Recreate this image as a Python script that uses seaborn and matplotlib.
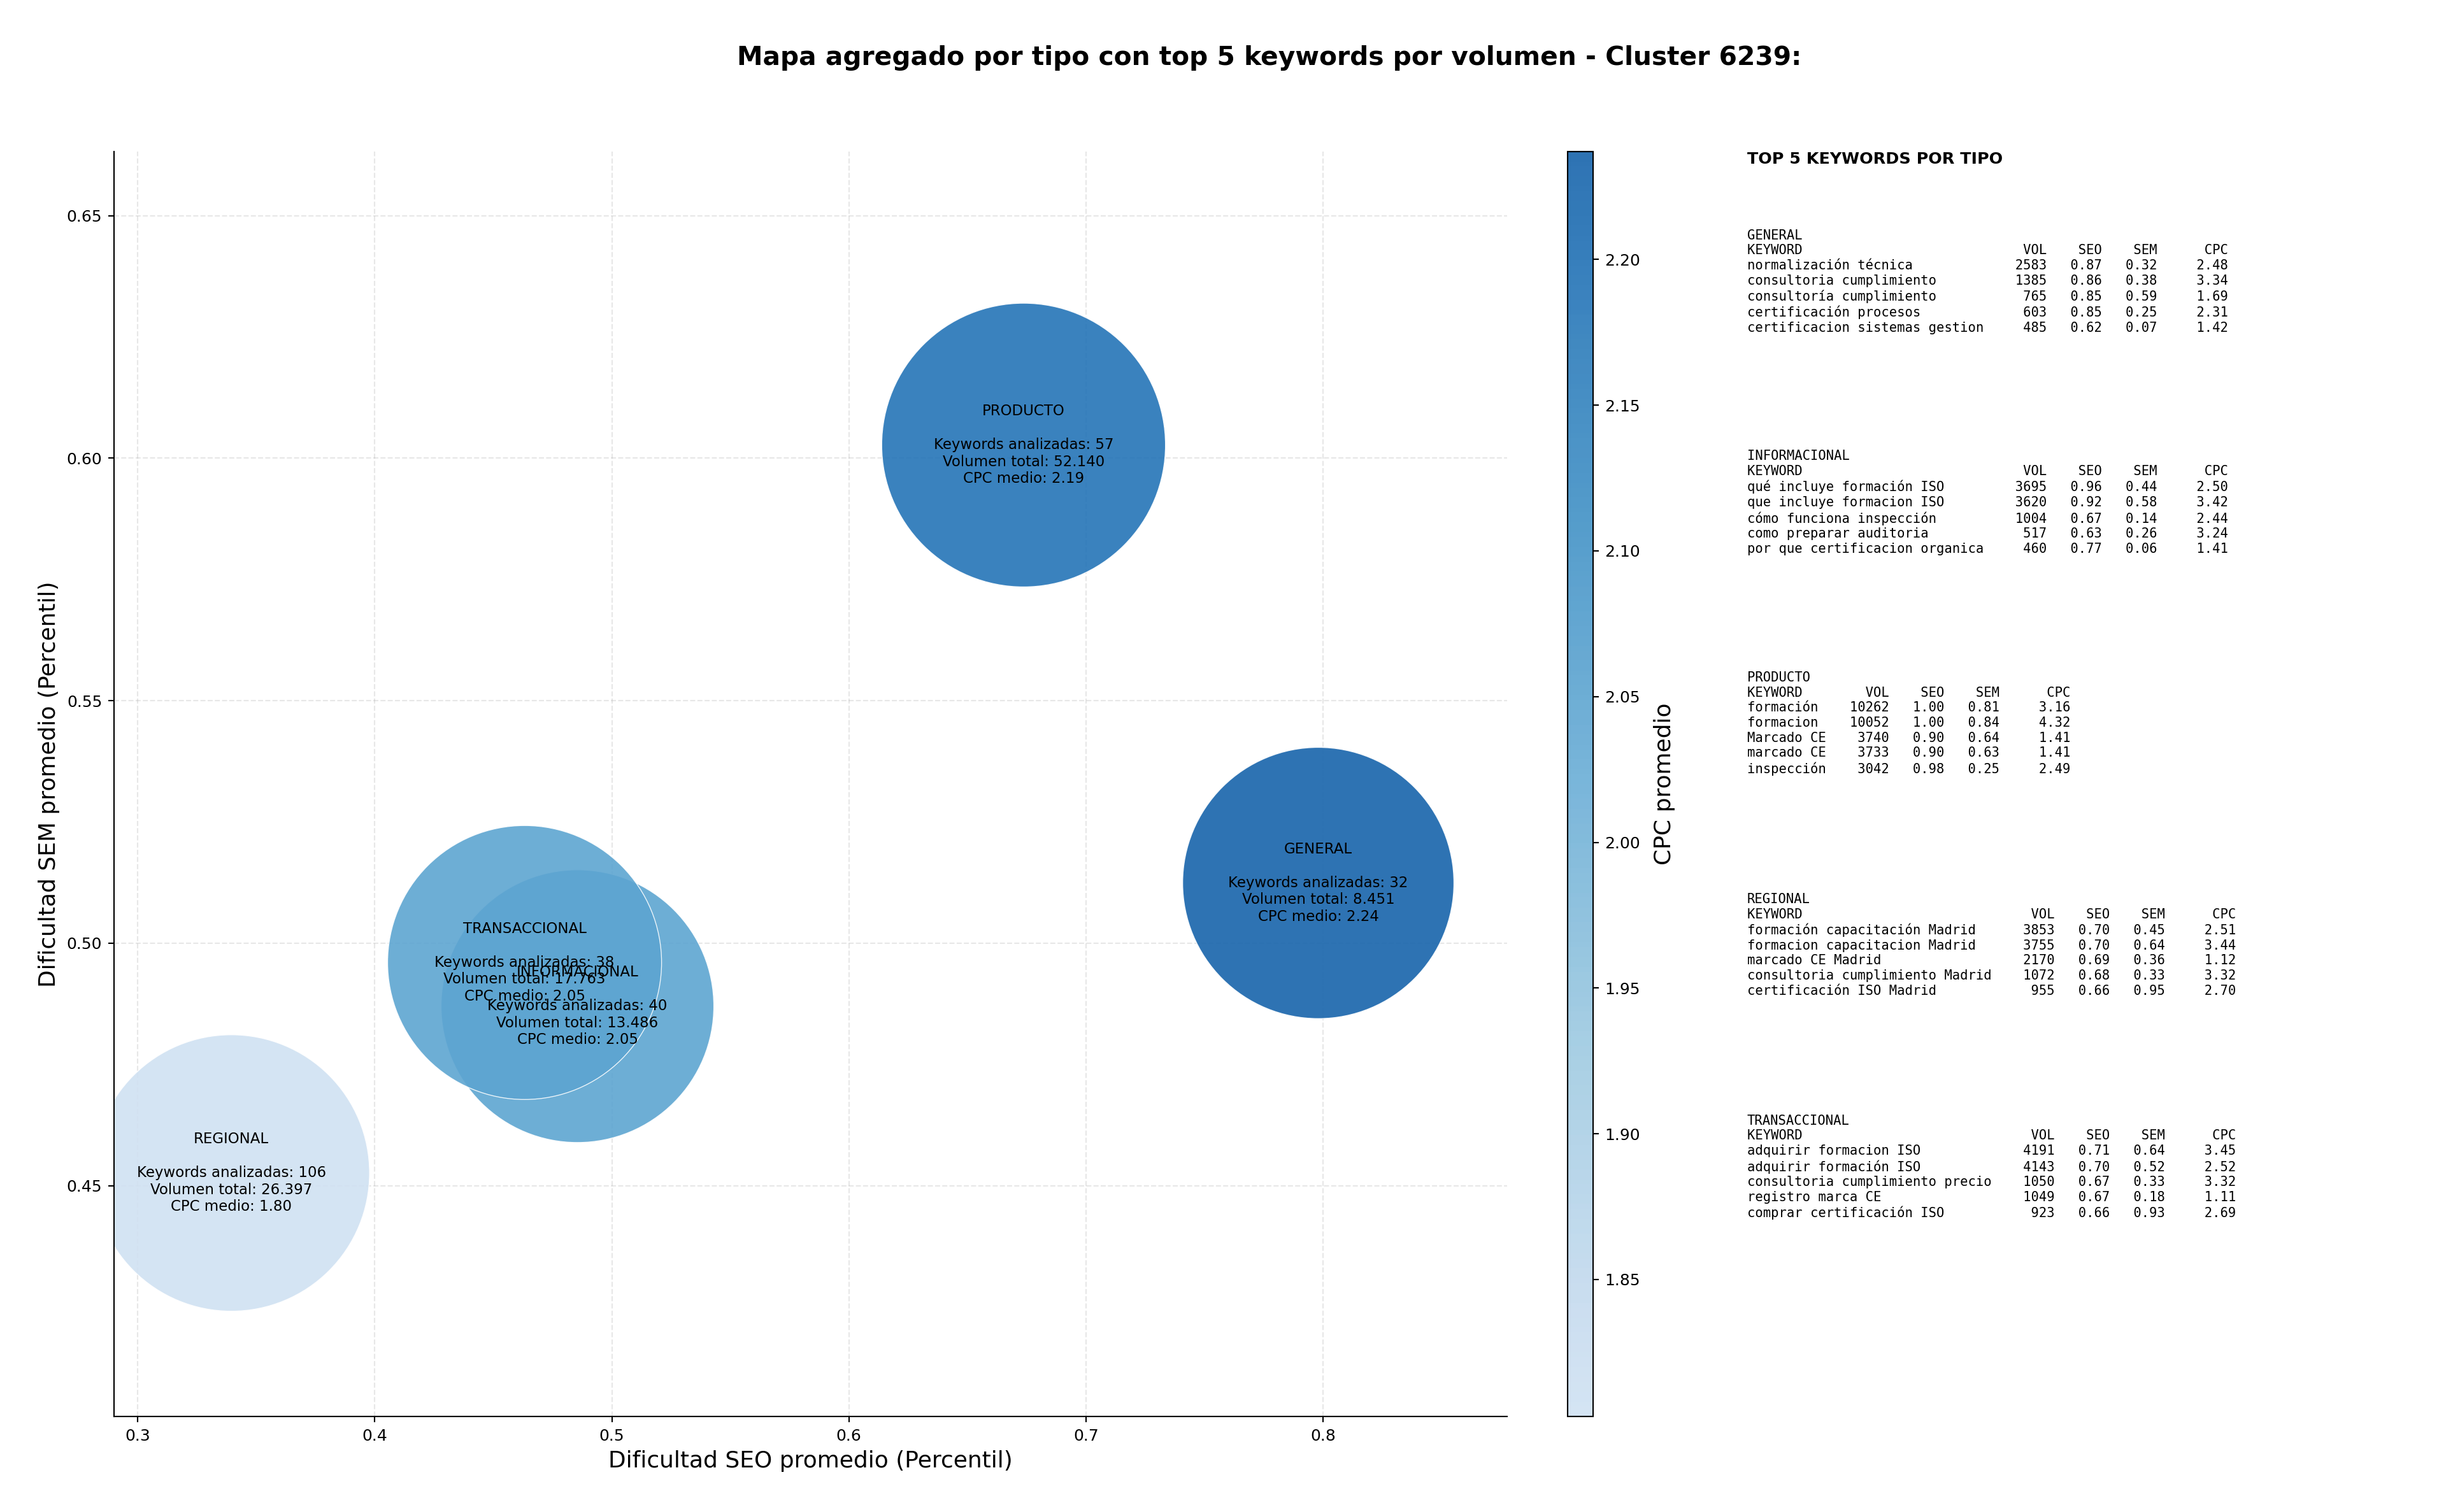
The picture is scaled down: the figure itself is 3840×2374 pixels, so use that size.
import matplotlib
matplotlib.use("Agg")
import matplotlib.pyplot as plt
from matplotlib.colors import ListedColormap, Normalize
from matplotlib.cm import ScalarMappable
import seaborn as sns
import pandas as pd
import numpy as np

# aggregated values per type
tipos = ["GENERAL", "INFORMACIONAL", "PRODUCTO", "REGIONAL", "TRANSACCIONAL"]
seo_medio = [0.798, 0.4855, 0.6737, 0.3395, 0.4632]
sem_medio = [0.5124, 0.487, 0.6027, 0.4526, 0.496]
n_keywords = [32, 40, 57, 106, 38]
volumen_total = [8451, 13486, 52140, 26397, 17763]
cpc_medio = [2.237, 2.05, 2.19, 1.803, 2.05]

# top 5 keywords per type: (keyword, vol, seo, sem, cpc)
top_general = [
    ("normalización técnica", 2583, 0.87, 0.32, 2.48),
    ("consultoria cumplimiento", 1385, 0.86, 0.38, 3.34),
    ("consultoría cumplimiento", 765, 0.85, 0.59, 1.69),
    ("certificación procesos", 603, 0.85, 0.25, 2.31),
    ("certificacion sistemas gestion", 485, 0.62, 0.07, 1.42),
]
top_informacional = [
    ("qué incluye formación ISO", 3695, 0.96, 0.44, 2.50),
    ("que incluye formacion ISO", 3620, 0.92, 0.58, 3.42),
    ("cómo funciona inspección", 1004, 0.67, 0.14, 2.44),
    ("como preparar auditoria", 517, 0.63, 0.26, 3.24),
    ("por que certificacion organica", 460, 0.77, 0.06, 1.41),
]
top_producto = [
    ("formación", 10262, 1.00, 0.81, 3.16),
    ("formacion", 10052, 1.00, 0.84, 4.32),
    ("Marcado CE", 3740, 0.90, 0.64, 1.41),
    ("marcado CE", 3733, 0.90, 0.63, 1.41),
    ("inspección", 3042, 0.98, 0.25, 2.49),
]
top_regional = [
    ("formación capacitación Madrid", 3853, 0.70, 0.45, 2.51),
    ("formacion capacitacion Madrid", 3755, 0.70, 0.64, 3.44),
    ("marcado CE Madrid", 2170, 0.69, 0.36, 1.12),
    ("consultoria cumplimiento Madrid", 1072, 0.68, 0.33, 3.32),
    ("certificación ISO Madrid", 955, 0.66, 0.95, 2.70),
]
top_transaccional = [
    ("adquirir formacion ISO", 4191, 0.71, 0.64, 3.45),
    ("adquirir formación ISO", 4143, 0.70, 0.52, 2.52),
    ("consultoria cumplimiento precio", 1050, 0.67, 0.33, 3.32),
    ("registro marca CE", 1049, 0.67, 0.18, 1.11),
    ("comprar certificación ISO", 923, 0.66, 0.93, 2.69),
]
tops = [top_general, top_informacional, top_producto, top_regional, top_transaccional]

df = pd.DataFrame({"tipo": tipos, "seo": seo_medio, "sem": sem_medio,
                   "n": n_keywords, "vol": volumen_total, "cpc": cpc_medio})

cmap = ListedColormap(plt.cm.Blues(np.linspace(0.2, 0.8, 256)))
norm = Normalize(vmin=min(cpc_medio), vmax=max(cpc_medio))

fig = plt.figure(figsize=(20, 2374 / 192), dpi=192)
ax = fig.add_axes([0.0466, 0.0632, 0.5695, 0.8365])

sns.scatterplot(data=df, x="seo", y="sem", hue="cpc", size="vol",
                sizes=(25500, 27900), palette=cmap, hue_norm=norm,
                alpha=0.9, edgecolor="white", linewidth=0.5, legend=False, ax=ax)

for _, r in df.iterrows():
    vol_txt = f"{r['vol']:,}".replace(",", ".")
    ax.text(r["seo"], r["sem"],
            f"{r['tipo']}\n\nKeywords analizadas: {r['n']}\nVolumen total: {vol_txt}\nCPC medio: {r['cpc']:.2f}",
            ha="center", va="center", fontsize=8.6)

ax.set_xlim(0.29, 0.8776)
ax.set_ylim(0.4024, 0.6632)
ax.set_xticks([0.3, 0.4, 0.5, 0.6, 0.7, 0.8])
ax.set_yticks([0.45, 0.50, 0.55, 0.60, 0.65])
ax.tick_params(labelsize=9.4)
ax.grid(True, linestyle="--", alpha=0.3)
ax.set_axisbelow(True)
ax.set_xlabel("Dificultad SEO promedio (Percentil)", fontsize=13.5)
ax.set_ylabel("Dificultad SEM promedio (Percentil)", fontsize=13.5)
sns.despine(ax=ax)

cax = fig.add_axes([0.641, 0.0632, 0.0102, 0.8365])
sm = ScalarMappable(norm=norm, cmap=cmap)
cb = fig.colorbar(sm, cax=cax, alpha=0.9)
cb.ax.tick_params(labelsize=9.4)
cb.set_label("CPC promedio", fontsize=13.5, labelpad=8)

fig.suptitle("Mapa agregado por tipo con top 5 keywords por volumen - Cluster 6239:",
             x=0.519, y=0.97, fontsize=15.3, fontweight="bold")

fig.text(0.7143, 0.8947, "TOP 5 KEYWORDS POR TIPO", fontsize=9.5,
         fontweight="bold", va="center")

block_y = [0.8485, 0.7025, 0.556, 0.4095, 0.263]
for tipo, rows, y in zip(tipos, tops, block_y):
    w = max(len(k[0]) for k in rows)
    lines = [tipo, f"{'KEYWORD':<{w}}  {'VOL':>6}{'SEO':>7}{'SEM':>7}{'CPC':>9}"]
    for kw, v, s, m, c in rows:
        lines.append(f"{kw:<{w}}  {v:>6}{s:>7.2f}{m:>7.2f}{c:>9.2f}")
    fig.text(0.7143, y, "\n".join(lines), family="DejaVu Sans Mono",
             fontsize=7.7, va="top", linespacing=1.23)

fig.savefig("out.png", dpi=192)
